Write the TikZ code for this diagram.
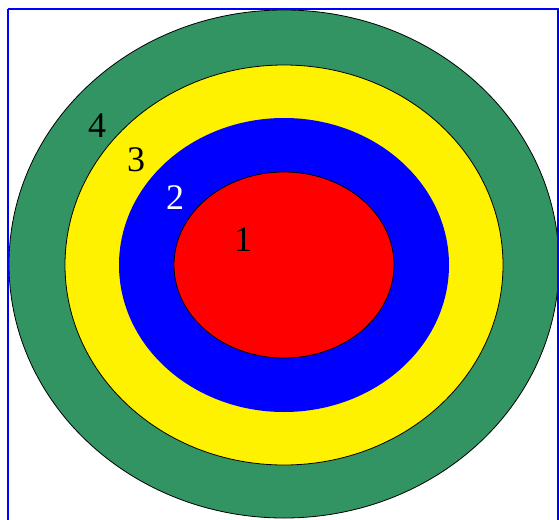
\documentclass[tikz,border=0pt]{standalone}
\usepackage{fontspec}
\setmainfont{Liberation Serif}
\definecolor{ringgreen}{RGB}{50,148,98}
\definecolor{ringblue}{RGB}{0,0,255}
\begin{document}
\begin{tikzpicture}[x=1pt,y=-1pt,
  ring/.style={draw=black,line width=0.8pt},
  lbl/.style={font=\fontsize{36}{36}\selectfont,inner sep=0pt}]
\useasboundingbox (0,0) rectangle (559,519);
\fill[ringgreen,ring] (284,264) ellipse [x radius=275,y radius=254];
\fill[yellow,ring] (284,265) ellipse [x radius=219,y radius=200];
\fill[ringblue] (284,265) ellipse [x radius=165,y radius=147];
\fill[red,ring] (284,265) ellipse [x radius=110,y radius=93];
\node[lbl] (l4) at (97,126) {4};
\node[lbl] (l3) at (136,160) {3};
\node[lbl,text=white] (l2) at (175,198) {2};
\node[lbl] (l1) at (243,240) {1};
\draw[blue,line width=2pt] (7.5,9.5) -- (557.5,9.5) -- (557.5,530) (7.5,9.5) -- (7.5,530);
\end{tikzpicture}
\end{document}
